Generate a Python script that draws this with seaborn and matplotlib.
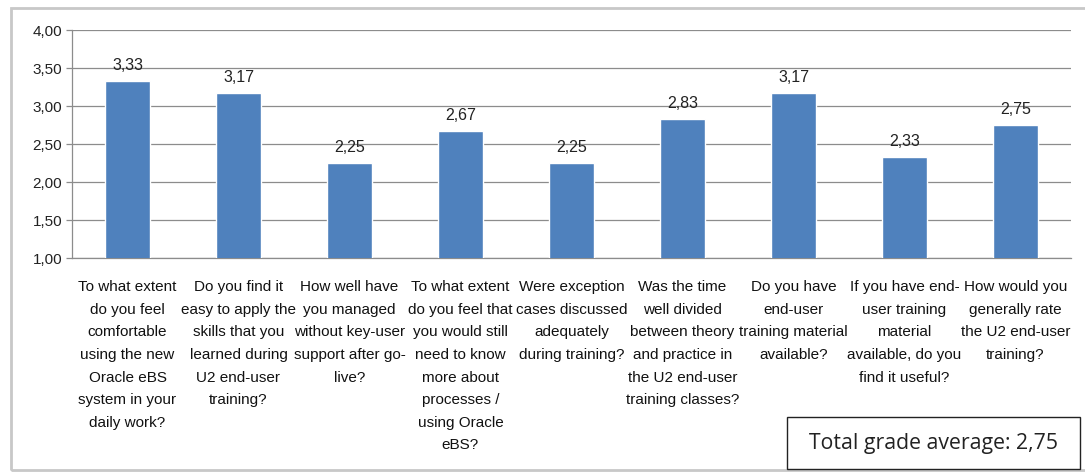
import matplotlib
matplotlib.use("Agg")
import matplotlib.pyplot as plt
from matplotlib.patches import Rectangle
import seaborn as sns
import pandas as pd

questions = [
    "To what extent\ndo you feel\ncomfortable\nusing the new\nOracle eBS\nsystem in your\ndaily work?",
    "Do you find it\neasy to apply the\nskills that you\nlearned during\nU2 end-user\ntraining?",
    "How well have\nyou managed\nwithout key-user\nsupport after go-\nlive?",
    "To what extent\ndo you feel that\nyou would still\nneed to know\nmore about\nprocesses /\nusing Oracle\neBS?",
    "Were exception\ncases discussed\nadequately\nduring training?",
    "Was the time\nwell divided\nbetween theory\nand practice in\nthe U2 end-user\ntraining classes?",
    "Do you have\nend-user\ntraining material\navailable?",
    "If you have end-\nuser training\nmaterial\navailable, do you\nfind it useful?",
    "How would you\ngenerally rate\nthe U2 end-user\ntraining?",
]
scores = [3.33, 3.17, 2.25, 2.67, 2.25, 2.83, 3.17, 2.33, 2.75]
y_ticks = [1.00, 1.50, 2.00, 2.50, 3.00, 3.50, 4.00]
total_average = 2.75

sns.set_theme(style="white")
plt.rcParams["font.family"] = ["Liberation Sans Narrow", "Liberation Sans", "DejaVu Sans"]

df = pd.DataFrame({"question": questions, "score": scores})

W, H = 1085, 472
fig = plt.figure(figsize=(W / 100, H / 100), dpi=100)
ax = fig.add_axes([72 / W, 1 - 258 / H, (1071 - 72) / W, (258 - 30) / H])

sns.barplot(data=df, x="question", y="score", color="#4F81BD", width=0.4,
            saturation=1, ax=ax, zorder=3)

def comma(v):
    return f"{v:.2f}".replace(".", ",")

ax.set_ylim(1.0, 4.0)
ax.set_xlim(-0.5, len(questions) - 0.5)
ax.set_yticks(y_ticks)
ax.set_yticklabels([comma(v) for v in y_ticks], fontsize=11, color="#222222")
ax.yaxis.grid(True, color="#8c8c8c", linewidth=0.9, zorder=0)
ax.set_axisbelow(True)

ax.set_xticks(range(len(questions)))
ax.set_xticklabels(questions, fontsize=11, color="#111111", linespacing=1.78,
                   va="top")
ax.tick_params(axis="x", length=0, pad=16)
ax.set_xticks([i + 0.5 for i in range(-1, len(questions))], minor=True)
ax.tick_params(axis="x", which="minor", length=5, color="#8c8c8c", width=0.9)
ax.tick_params(axis="y", length=4, color="#8c8c8c", width=0.9, left=True, pad=3)
ax.set_xlabel("")
ax.set_ylabel("")

for side in ("top", "right"):
    ax.spines[side].set_visible(False)
for side in ("left", "bottom"):
    ax.spines[side].set_color("#8c8c8c")
    ax.spines[side].set_linewidth(0.9)

for i, v in enumerate(scores):
    ax.annotate(comma(v), (i, v), xytext=(0, 6), textcoords="offset points",
                ha="center", va="bottom", fontsize=11.5, color="#222222")

# outer chart frame
fig.patches.append(Rectangle((11 / W, 1 - 470 / H), (1090 - 11) / W, (470 - 8) / H,
                             transform=fig.transFigure, fill=False,
                             edgecolor="#c8c8c8", linewidth=2.0))

# summary box
fig.patches.append(Rectangle((787 / W, 1 - 469 / H), (1080 - 787) / W, (469 - 417) / H,
                             transform=fig.transFigure, fill=True, facecolor="white",
                             edgecolor="#222222", linewidth=1.0, zorder=5))
fig.text((787 + 1080) / 2 / W, 1 - 443 / H, f"Total grade average: {comma(total_average)}",
         ha="center", va="center", fontsize=15.3, color="#222222",
         family=["Open Sans", "DejaVu Sans"], zorder=6)

fig.savefig("out.png", dpi=100)
